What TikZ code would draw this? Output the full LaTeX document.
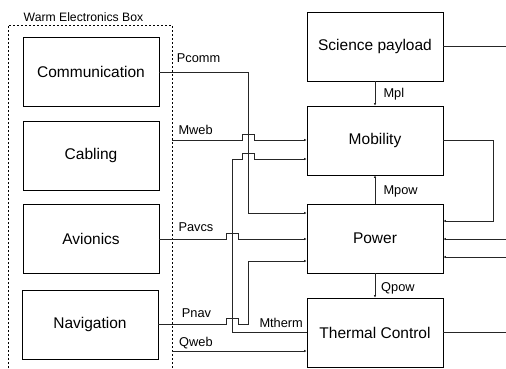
\documentclass[tikz,border=0pt]{standalone}
\usepackage{fontspec}
\setmainfont{Liberation Sans}
\usetikzlibrary{arrows.meta}
\begin{document}
\begin{tikzpicture}[x=1pt,y=-1pt,
  blk/.style={draw=black,line width=0.9pt,minimum width=136pt,minimum height=69pt,inner sep=0pt,font=\fontsize{15.5}{18}\selectfont},
  lbl/.style={anchor=base west,inner sep=0pt,font=\fontsize{12.8}{15}\selectfont},
  wire/.style={draw=black!85,line width=0.8pt},
  arr/.style={wire,-{Latex[length=2.5pt,width=2.5pt]}}]
\useasboundingbox (0,0) rectangle (506,368);
% warm electronics box
\draw[line width=0.7pt,dash pattern=on 2pt off 2pt] (8,368) -- (8,25) -- (172,25) -- (172,368);
\node[anchor=base west,inner sep=0pt,font=\fontsize{12.2}{14}\selectfont] (web) at (23.5,21) {Warm Electronics Box};
% blocks
\node[blk] (comm) at (91,72) {Communication};
\node[blk] (cab) at (91,155.5) {Cabling};
\node[blk] (avi) at (91,239) {Avionics};
\node[blk] (nav) at (90,324.5) {Navigation};
\node[blk] (sci) at (375,46.5) {Science payload};
\node[blk] (mob) at (375,140.5) {Mobility};
\node[blk] (pow) at (375,238.5) {Power};
\node[blk] (therm) at (375,332.5) {Thermal Control};
% free ends
\coordinate (mwebS) at (172,140);
\coordinate (qwebS) at (172,351);
\coordinate (sciE) at (506,46.5);
\coordinate (thermE) at (506,332.5);
\coordinate (in1) at (506,239);
\coordinate (in2) at (506,257);
% connectors
\draw[arr] (comm.east) -- (248,72) -- (248,213) -- (pow.west |- 0,213);
\draw[arr] (mwebS) -- (242.5,140) -- (242.5,134) -- (254.5,134) -- (254.5,140) -- (mob.west |- 0,140);
\draw[arr] (therm.west) -- (232,332.5) -- (232,159) -- (242.5,159) -- (242.5,153) -- (254.5,153) -- (254.5,159) -- (mob.west |- 0,159);
\draw[arr] (avi.east) -- (226,239) -- (226,233) -- (238.5,233) -- (238.5,239) -- (pow.west |- 0,239);
\draw[arr] (nav.east) -- (226,324.5) -- (226,318.5) -- (238.5,318.5) -- (238.5,324.5) -- (248,324.5) -- (248,261) -- (pow.west |- 0,261);
\draw[arr] (qwebS) -- (therm.west |- 0,351);
\draw[arr] (sci.south) -- (mob.north);
\draw[arr] (pow.north) -- (mob.south);
\draw[arr] (pow.south) -- (therm.north);
\draw[arr] (mob.east) -- (493,140.5) -- (493,221) -- (pow.east |- 0,221);
\draw[arr] (in1) -- (pow.east |- 0,239);
\draw[arr] (in2) -- (pow.east |- 0,257);
\draw[wire] (sci.east) -- (sciE);
\draw[wire] (therm.east) -- (thermE);
% labels
\node[lbl] (lpcomm) at (176.7,62.5) {Pcomm};
\node[lbl] (lmweb) at (178.3,134.5) {Mweb};
\node[lbl] (lpavcs) at (178.3,231.5) {Pavcs};
\node[lbl] (lpnav) at (181.7,317.5) {Pnav};
\node[lbl] (lqweb) at (179,346.5) {Qweb};
\node[lbl] (lmtherm) at (259.3,327.5) {Mtherm};
\node[lbl] (lmpl) at (383.3,97.5) {Mpl};
\node[lbl] (lmpow) at (383.3,194.5) {Mpow};
\node[lbl] (lqpow) at (381,291.5) {Qpow};
\end{tikzpicture}
\end{document}
